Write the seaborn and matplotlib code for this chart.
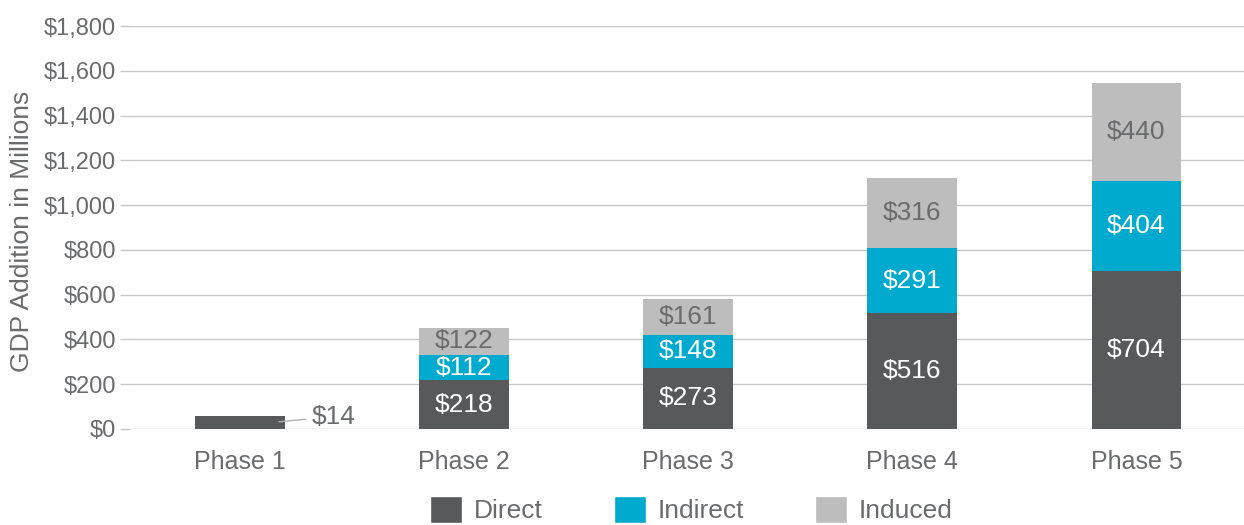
import matplotlib
matplotlib.use("Agg")
import matplotlib.pyplot as plt
import seaborn as sns
import numpy as np
import pandas as pd
from matplotlib.patches import Patch

phases = ["Phase 1", "Phase 2", "Phase 3", "Phase 4", "Phase 5"]
direct = [58, 218, 273, 516, 704]      # drawn height
indirect = [0, 112, 148, 291, 404]
induced = [0, 122, 161, 316, 440]
direct_labels = ["$14", "$218", "$273", "$516", "$704"]
indirect_labels = ["", "$112", "$148", "$291", "$404"]
induced_labels = ["", "$122", "$161", "$316", "$440"]
yticks = [0, 200, 400, 600, 800, 1000, 1200, 1400, 1600, 1800]

C_DIRECT = "#58595b"
C_INDIRECT = "#00a9ce"
C_INDUCED = "#bdbdbd"
TXT = "#6a6b6d"

sns.set_theme(style="white")
plt.rcParams["font.family"] = ["Liberation Sans", "DejaVu Sans"]

fig = plt.figure(figsize=(12.44, 5.25), dpi=100)
ax = fig.add_axes([0.1045, 0.183, 0.9045, 0.767])

d = np.array(direct, float)
i = np.array(indirect, float)
n = np.array(induced, float)
df = pd.DataFrame({"phase": phases, "total": d + i + n, "di": d + i, "d": d})

for col, c in [("total", C_INDUCED), ("di", C_INDIRECT), ("d", C_DIRECT)]:
    sns.barplot(data=df, x="phase", y=col, color=c, width=0.4, ax=ax,
                saturation=1, linewidth=0, zorder=3)

ax.set_ylim(0, 1800)
ax.set_xlim(-0.49, 4.53)
ax.set_yticks(yticks)
ax.set_yticklabels([f"${v:,}" for v in yticks], fontsize=17, color=TXT)
ax.set_xticks(range(len(phases)))
ax.set_xticklabels(phases, fontsize=18, color=TXT)
ax.grid(axis="y", color="#c8c8c8", linewidth=1, zorder=0)
ax.set_axisbelow(True)
for s in ax.spines.values():
    s.set_visible(False)
ax.tick_params(axis="y", left=True, length=7, width=1, color="#c8c8c8", pad=3)
ax.tick_params(axis="x", bottom=False, pad=9)
ax.set_xlabel("")
ax.set_ylabel("GDP Addition in Millions", fontsize=19, color=TXT)
ax.yaxis.set_label_coords(-0.085, 0.49)

LBL = 19
for k in range(len(phases)):
    if k == 0:
        ax.annotate(direct_labels[k], xy=(0.175, d[k] * 0.55), xytext=(0.32, d[k] * 0.95),
                    fontsize=LBL, color=TXT, va="center", ha="left",
                    arrowprops=dict(arrowstyle="-", color="#b0b0b0", lw=1,
                                    shrinkA=2, shrinkB=0))
        continue
    ax.text(k, d[k] / 2, direct_labels[k], ha="center", va="center",
            fontsize=LBL, color="white", zorder=5)
    ax.text(k, d[k] + i[k] / 2, indirect_labels[k], ha="center", va="center",
            fontsize=LBL, color="white", zorder=5)
    ax.text(k, d[k] + i[k] + n[k] / 2, induced_labels[k], ha="center", va="center",
            fontsize=LBL, color=TXT, zorder=5)

handles = [Patch(facecolor=C_DIRECT, label="Direct"),
           Patch(facecolor=C_INDIRECT, label="Indirect"),
           Patch(facecolor=C_INDUCED, label="Induced")]
leg = fig.legend(handles=handles, loc="center", bbox_to_anchor=(0.556, 0.03),
                 ncol=3, frameon=False, fontsize=19, handlelength=1.2,
                 handleheight=1.2, columnspacing=2.7, handletextpad=0.45,
                 borderpad=0, borderaxespad=0)
for t in leg.get_texts():
    t.set_color(TXT)

fig.savefig("out.png", dpi=100)
